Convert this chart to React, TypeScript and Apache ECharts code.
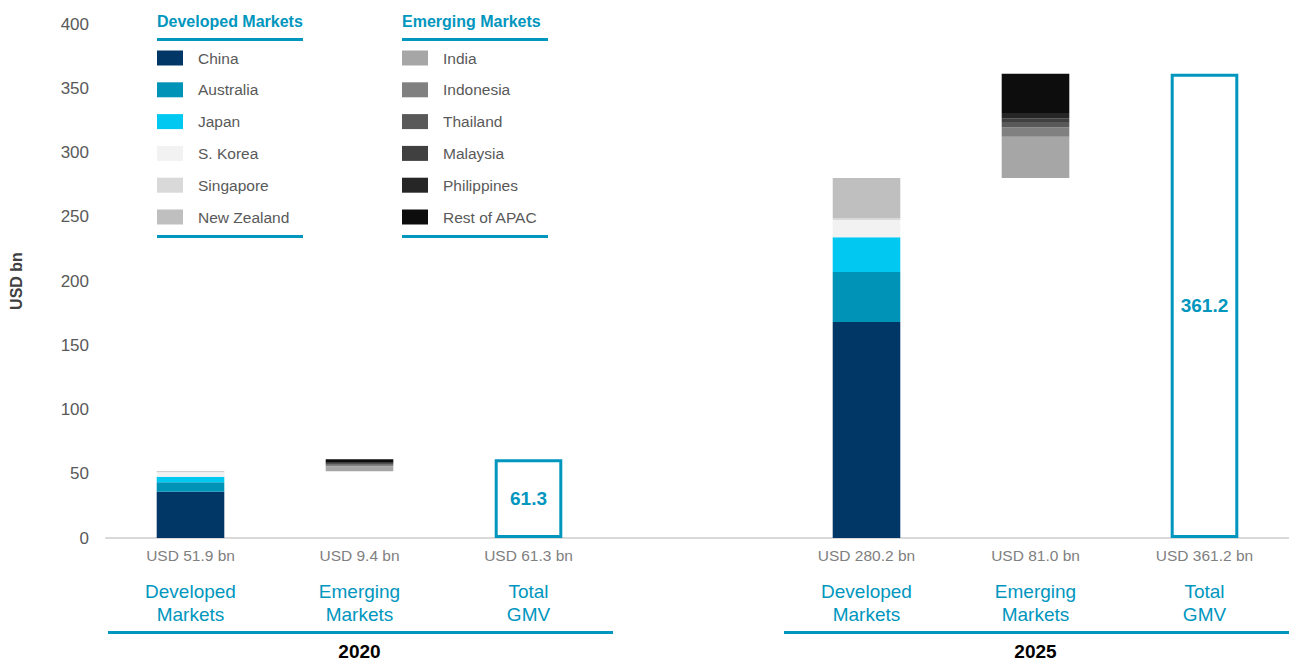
import React, { useEffect, useRef } from "react";
import * as echarts from "echarts";

const slots = ["DM2020", "EM2020", "GMV2020", "gap", "DM2025", "EM2025", "GMV2025"];
const years = ["2020", "2025"];
const groupNames = [["Developed", "Markets"], ["Emerging", "Markets"], ["Total", "GMV"]];

const devNames = ["China", "Australia", "Japan", "S. Korea", "Singapore", "New Zealand"];
const devColors = ["#003767", "#0093B8", "#00C8F0", "#F2F2F2", "#D9D9D9", "#BFBFBF"];
const dev2020 = [36.0, 7.3, 4.4, 3.4, 0.3, 0.5];
const dev2025 = [168.0, 39.0, 27.0, 13.5, 1.5, 31.2];

const emNames = ["India", "Indonesia", "Thailand", "Malaysia", "Philippines", "Rest of APAC"];
const emColors = ["#A6A6A6", "#808080", "#595959", "#404040", "#262626", "#0D0D0D"];
const em2020 = [3.9, 1.0, 0.5, 0.5, 0.8, 2.7];
const em2025 = [32.0, 7.5, 4.0, 3.0, 4.0, 30.5];

const devTotals = [51.9, 280.2];
const emTotals = [9.4, 81.0];
const gmvTotals = [61.3, 361.2];

const yTicks = { min: 0, max: 400, interval: 50 };

const TEAL = "#0096BE";
const FONT = "'Liberation Sans', Arial, sans-serif";

export default function App() {
  const ref = useRef<HTMLDivElement>(null);
  useEffect(() => {
    document.body.style.margin = "0";
    const chart = echarts.init(ref.current!, null, { renderer: "svg" });
    const blank = () => slots.map(() => "-" as any);
    const series: any[] = [];
    const baseData = blank();
    baseData[1] = devTotals[0];
    baseData[5] = devTotals[1];
    series.push({
      name: "base",
      type: "bar",
      stack: "s",
      data: baseData,
      silent: true,
      itemStyle: { color: "rgba(0,0,0,0)" },
      barWidth: "40%",
    });
    devNames.forEach((n, i) => {
      const d = blank();
      d[0] = dev2020[i];
      d[4] = dev2025[i];
      series.push({ name: n, type: "bar", stack: "s", data: d, barWidth: "40%", itemStyle: { color: devColors[i] } });
    });
    emNames.forEach((n, i) => {
      const d = blank();
      d[1] = em2020[i];
      d[5] = em2025[i];
      series.push({ name: n, type: "bar", stack: "s", data: d, barWidth: "40%", itemStyle: { color: emColors[i] } });
    });
    const g = blank();
    g[2] = gmvTotals[0];
    g[6] = gmvTotals[1];
    series.push({
      name: "Total GMV",
      type: "bar",
      stack: "s",
      data: g,
      barWidth: "40%",
      itemStyle: { color: "#FFFFFF", borderColor: TEAL, borderWidth: 3 },
      label: {
        show: true,
        position: "inside",
        color: TEAL,
        fontWeight: "bold",
        fontSize: 19,
        fontFamily: FONT,
        formatter: (p: any) => Number(p.value).toFixed(1),
      },
    });

    const legendCommon = {
      orient: "vertical",
      top: 50,
      padding: 0,
      itemWidth: 26,
      itemHeight: 15,
      itemGap: 15.8,
      icon: "rect",
      selectedMode: false,
      textStyle: { color: "#595959", fontSize: 15.5, lineHeight: 15, fontFamily: FONT, padding: [0, 0, 0, 10] },
    };

    chart.setOption({
      animation: false,
      backgroundColor: "#FFFFFF",
      textStyle: { fontFamily: FONT },
      grid: { left: 106, right: 0, top: 24, bottom: 124, containLabel: false },
      legend: [
        { ...legendCommon, left: 157, data: devNames },
        { ...legendCommon, left: 402, data: emNames },
      ],
      xAxis: {
        type: "category",
        data: slots,
        axisTick: { show: false },
        axisLine: { lineStyle: { color: "#D9D9D9", width: 2 } },
        axisLabel: {
          interval: 0,
          margin: 7,
          formatter: (_v: string, idx: number) => {
            if (idx === 3) return "";
            const y = idx < 3 ? 0 : 1;
            const k = idx < 3 ? idx : idx - 4;
            const val = [devTotals, emTotals, gmvTotals][k][y];
            const nm = groupNames[k];
            return `{v|USD ${val.toFixed(1)} bn}\n{s| }\n{n|${nm[0]}}\n{n|${nm[1]}}`;
          },
          rich: {
            v: { color: "#808080", fontSize: 15.5, lineHeight: 20, fontFamily: FONT },
            s: { fontSize: 8, lineHeight: 15 },
            n: { color: TEAL, fontSize: 19, lineHeight: 23, fontFamily: FONT },
          },
        },
      },
      yAxis: {
        type: "value",
        ...yTicks,
        name: "USD bn",
        nameLocation: "middle",
        nameGap: 82,
        nameTextStyle: { color: "#404040", fontWeight: "bold", fontSize: 16, fontFamily: FONT },
        axisLine: { show: false },
        axisTick: { show: false },
        splitLine: { show: false },
        axisLabel: { color: "#595959", fontSize: 17, margin: 17, fontFamily: FONT },
      },
      series,
    });

    const cx = (i: number) => chart.convertToPixel({ xAxisIndex: 0 }, slots[i]) as number;
    const slotW = cx(1) - cx(0);
    const graphic: any[] = [];
    const headers = [
      { text: "Developed Markets", x: 157 },
      { text: "Emerging Markets", x: 402 },
    ];
    headers.forEach((h) => {
      graphic.push({
        type: "text",
        left: h.x,
        top: 13,
        style: { text: h.text, fill: TEAL, font: `bold 16px ${FONT}` },
      });
      graphic.push({ type: "rect", left: h.x, top: 38, shape: { width: 146, height: 3 }, style: { fill: TEAL } });
      graphic.push({ type: "rect", left: h.x, top: 235, shape: { width: 146, height: 3 }, style: { fill: TEAL } });
    });
    years.forEach((yr, i) => {
      const first = i === 0 ? 0 : 4;
      const x0 = cx(first) - slotW / 2;
      const x1 = cx(first + 2) + slotW / 2;
      graphic.push({ type: "rect", shape: { x: x0 + 2, y: 631, width: x1 - x0 - 2, height: 3 }, style: { fill: TEAL } });
      graphic.push({
        type: "text",
        x: cx(first + 1),
        y: 651,
        style: { text: yr, fill: "#000000", font: `bold 19px ${FONT}`, textAlign: "center", textVerticalAlign: "middle" },
      });
    });
    chart.setOption({ graphic });

    return () => chart.dispose();
  }, []);
  return <div ref={ref} style={{ position: "absolute", left: 0, top: 0, width: 1289, height: 662 }} />;
}
